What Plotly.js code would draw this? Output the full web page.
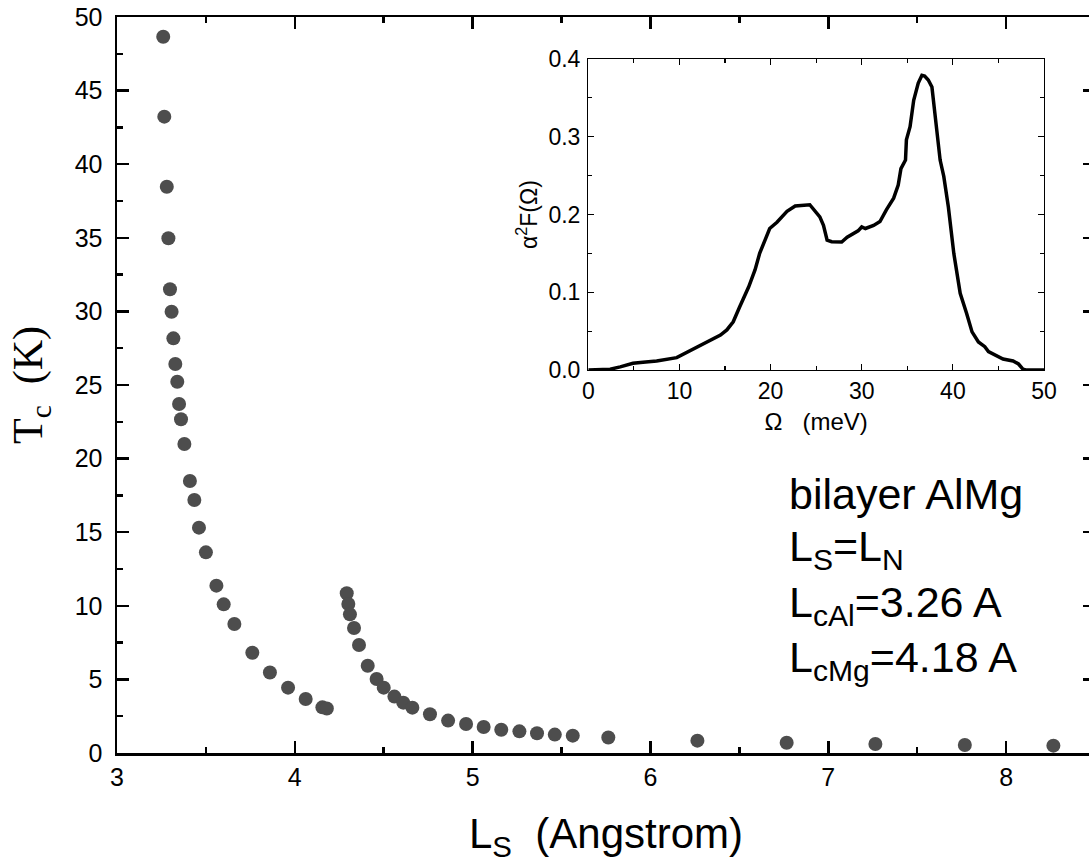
<!DOCTYPE html>
<html>
<head>
<meta charset="utf-8">
<script src="https://cdn.plot.ly/plotly-3.0.1.min.js"></script>
<style>
html,body{margin:0;padding:0;overflow:hidden;background:#fff;}
#chart{width:1100px;height:863px;}
</style>
</head>
<body>
<div id="chart"></div>
<script>
// Main series: Tc vs L_S (two branches)
const lsBranch1 = [3.26,3.266,3.28,3.289,3.298,3.307,3.317,3.328,3.339,3.349,3.36,3.379,3.41,3.435,3.461,3.50,3.559,3.60,3.66,3.761,3.86,3.962,4.061,4.155,4.18];
const tcBranch1 = [48.66,43.23,38.47,34.97,31.5,29.98,28.17,26.43,25.22,23.71,22.67,20.99,18.48,17.19,15.31,13.63,11.37,10.1,8.76,6.81,5.47,4.44,3.67,3.1,3.02];
const lsBranch2 = [4.292,4.301,4.31,4.333,4.361,4.41,4.46,4.50,4.56,4.61,4.661,4.76,4.862,4.963,5.062,5.161,5.263,5.362,5.462,5.563,5.763,6.264,6.766,7.265,7.768,8.266];
const tcBranch2 = [10.85,10.12,9.42,8.49,7.34,5.93,5.03,4.44,3.83,3.42,3.08,2.63,2.2,1.97,1.77,1.58,1.47,1.34,1.25,1.18,1.05,0.84,0.70,0.61,0.54,0.50];

// Inset: Eliashberg function alpha^2 F(Omega)
const omega = [0,2.4,3.5,4.9,6.0,7.5,9.7,10.8,12.3,14.5,15.2,15.9,16.6,17.6,18.3,18.8,19.9,20.7,21.8,22.7,24.3,25.4,25.8,26.2,26.7,27.8,28.4,29.1,29.6,30.0,30.4,31.3,32.0,32.7,33.5,34.0,34.3,34.8,34.9,35.3,35.7,36.2,36.6,36.9,37.3,37.7,38.2,38.6,39.0,39.5,40.1,40.8,41.5,42.1,42.8,43.5,43.9,44.8,45.5,46.6,47.2,47.7,48.0,50];
const a2f = [0,0.001,0.004,0.0086,0.0099,0.0116,0.0159,0.0223,0.032,0.045,0.0515,0.062,0.081,0.107,0.129,0.15,0.182,0.19,0.204,0.211,0.2126,0.197,0.186,0.167,0.165,0.1646,0.1707,0.176,0.179,0.184,0.182,0.186,0.191,0.206,0.221,0.238,0.259,0.27,0.296,0.313,0.347,0.369,0.379,0.378,0.373,0.364,0.313,0.27,0.249,0.21,0.15,0.0986,0.073,0.049,0.036,0.03,0.0236,0.0185,0.0141,0.0116,0.0077,0.0009,0,0];

// Text block
const infoLines = ['bilayer AlMg','L<sub>S</sub>=L<sub>N</sub>','L<sub>cAl</sub>=3.26 A','L<sub>cMg</sub>=4.18 A'];
const infoY = [17.6,13.85,10.05,6.35];

const SANS = 'Liberation Sans, Arial, sans-serif';
const SERIF = 'Liberation Serif, Times New Roman, serif';
const markerColor = '#4d4d4d';

const traces = [
  {x: lsBranch1, y: tcBranch1, type:'scatter', mode:'markers', xaxis:'x', yaxis:'y',
   marker:{size:14, color:markerColor}, showlegend:false},
  {x: lsBranch2, y: tcBranch2, type:'scatter', mode:'markers', xaxis:'x', yaxis:'y',
   marker:{size:14, color:markerColor}, showlegend:false},
  {x: omega, y: a2f, type:'scatter', mode:'lines', xaxis:'x2', yaxis:'y2',
   line:{color:'#000', width:3.5}, showlegend:false}
];

const mainAxis = {
  showline:true, linewidth:2.5, linecolor:'#000', mirror:'ticks',
  ticks:'inside', ticklen:12, tickwidth:2.5, tickcolor:'#000',
  showgrid:false, zeroline:false,
  tickfont:{family:SANS, size:25, color:'#000'}
};
const insetAxis = {
  showline:true, linewidth:1.3, linecolor:'#000', mirror:'ticks',
  ticks:'inside', ticklen:6, tickwidth:1.2, tickcolor:'#000',
  showgrid:false, zeroline:false,
  tickfont:{family:SANS, size:23, color:'#000'}
};

const annotations = infoLines.map((t,i)=>({
  x:6.77, y:infoY[i], xref:'x', yref:'y', xanchor:'left', yanchor:'middle',
  text:t, showarrow:false, font:{family:SANS, size:43, color:'#000'}
}));

const layout = {
  width:1100, height:863,
  margin:{l:117, r:5, t:17, b:110},
  paper_bgcolor:'#fff', plot_bgcolor:'#fff',
  xaxis: Object.assign({}, mainAxis, {
    range:[3,8.5], tick0:3, dtick:1, domain:[0,1], anchor:'y',
    minor:{ticks:'inside', dtick:0.5, ticklen:6, tickwidth:2.5, tickcolor:'#000'},
    title:{text:'L<sub>S</sub>  (Angstrom)', font:{family:SANS, size:42, color:'#000'}, standoff:30}
  }),
  yaxis: Object.assign({}, mainAxis, {
    range:[0,50], tick0:0, dtick:5, domain:[0,1], anchor:'x',
    minor:{ticks:'inside', dtick:2.5, ticklen:6, tickwidth:2.5, tickcolor:'#000'},
    ticklabelstandoff:7,
    title:{text:'T<sub>c</sub>  (K)', font:{family:SERIF, size:42, color:'#000'}, standoff:19}
  }),
  xaxis2: Object.assign({}, insetAxis, {
    range:[0,50], tick0:0, dtick:10, domain:[0.4819,0.9479], anchor:'y2',
    minor:{ticks:'inside', dtick:5, ticklen:4, tickwidth:1.2, tickcolor:'#000'},
    title:{text:'Ω   (meV)', font:{family:SANS, size:24, color:'#000'}, standoff:10}
  }),
  yaxis2: Object.assign({}, insetAxis, {
    range:[0,0.4], tick0:0, dtick:0.1, tickformat:'.1f', domain:[0.5204,0.9429], anchor:'x2',
    minor:{ticks:'inside', dtick:0.05, ticklen:4, tickwidth:1.2, tickcolor:'#000'},
    ticklabelstandoff:2,
    title:{text:'α<sup>2</sup>F(Ω)', font:{family:SANS, size:23, color:'#000'}, standoff:4}
  }),
  annotations: annotations
};

Plotly.newPlot('chart', traces, layout, {displayModeBar:false, staticPlot:true});
</script>
</body>
</html>
